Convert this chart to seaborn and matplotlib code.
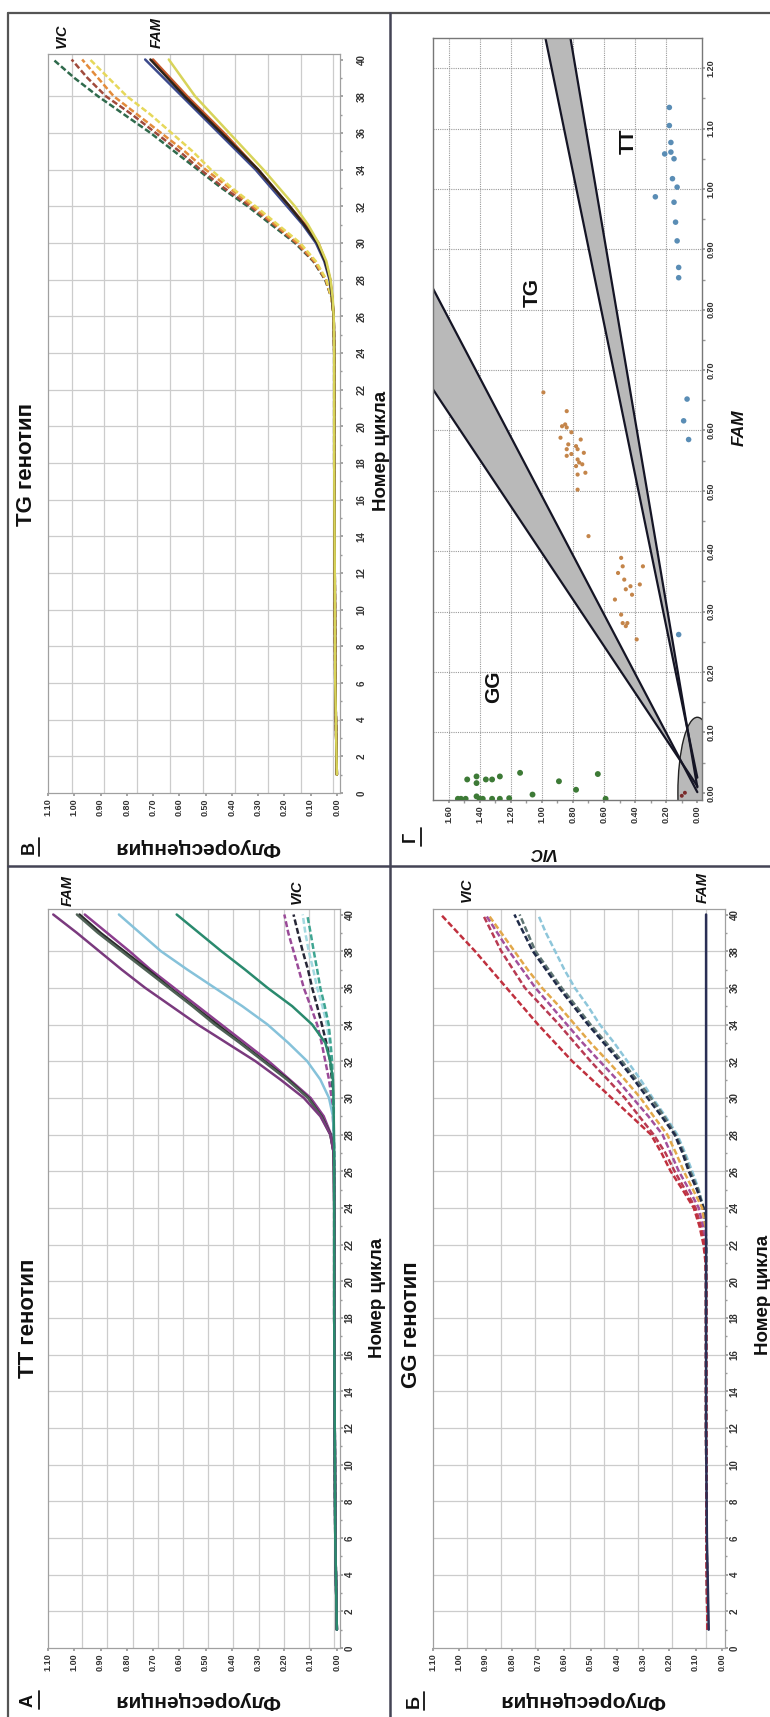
import numpy as np
import pandas as pd
import matplotlib
matplotlib.use("Agg")
import matplotlib.pyplot as plt
from matplotlib.colors import to_hex
from matplotlib.patches import Ellipse
from matplotlib.lines import Line2D
import seaborn as sns

# cycles at which the amplification curves were read
cyc_main = [1, 6, 12, 18, 24, 26, 27, 28, 29, 30, 31, 32, 33, 34, 35, 36, 37, 38, 39, 40]
cyc_gg = [1, 6, 12, 18, 20, 21, 22, 23, 24, 25, 26, 27, 28, 29, 30, 31, 32, 33, 34, 35, 36, 37, 38, 39, 40]

# panel В - TG genotype
tg_vic_green = [0.00, 0.006, 0.008, 0.010, 0.010, 0.012, 0.020, 0.045, 0.090, 0.160, 0.250, 0.340, 0.440, 0.530, 0.620, 0.710, 0.810, 0.910, 1.000, 1.080]
tg_vic_red = [0.00, 0.006, 0.008, 0.010, 0.010, 0.012, 0.020, 0.043, 0.088, 0.155, 0.240, 0.330, 0.430, 0.520, 0.600, 0.690, 0.780, 0.880, 0.950, 1.010]
tg_vic_orange = [0.00, 0.006, 0.008, 0.010, 0.010, 0.012, 0.020, 0.042, 0.085, 0.150, 0.235, 0.320, 0.410, 0.500, 0.580, 0.670, 0.760, 0.850, 0.910, 0.970]
tg_vic_yellow = [0.00, 0.006, 0.008, 0.010, 0.010, 0.012, 0.020, 0.040, 0.080, 0.140, 0.225, 0.310, 0.400, 0.480, 0.550, 0.630, 0.710, 0.800, 0.870, 0.940]
tg_fam_blue = [0.00, 0.006, 0.008, 0.010, 0.010, 0.012, 0.018, 0.028, 0.048, 0.080, 0.130, 0.190, 0.250, 0.310, 0.380, 0.450, 0.520, 0.590, 0.660, 0.730]
tg_fam_black = [0.00, 0.006, 0.008, 0.010, 0.010, 0.012, 0.018, 0.026, 0.045, 0.075, 0.125, 0.180, 0.240, 0.300, 0.370, 0.440, 0.510, 0.580, 0.645, 0.710]
tg_fam_red = [0.00, 0.006, 0.008, 0.010, 0.010, 0.012, 0.017, 0.025, 0.043, 0.070, 0.120, 0.180, 0.240, 0.300, 0.365, 0.430, 0.500, 0.570, 0.635, 0.700]
tg_fam_yellow = [0.00, 0.006, 0.008, 0.010, 0.010, 0.012, 0.016, 0.024, 0.040, 0.070, 0.110, 0.160, 0.220, 0.280, 0.345, 0.410, 0.475, 0.540, 0.590, 0.640]

# panel А - TT genotype
tt_fam_purple1 = [0.00, 0.006, 0.008, 0.010, 0.010, 0.011, 0.012, 0.025, 0.063, 0.126, 0.215, 0.310, 0.420, 0.530, 0.630, 0.730, 0.820, 0.905, 0.990, 1.080]
tt_fam_gray = [0.00, 0.006, 0.008, 0.010, 0.010, 0.011, 0.012, 0.025, 0.060, 0.110, 0.190, 0.280, 0.370, 0.465, 0.550, 0.640, 0.730, 0.820, 0.910, 0.990]
tt_fam_black = [0.00, 0.006, 0.008, 0.010, 0.010, 0.011, 0.012, 0.024, 0.058, 0.108, 0.185, 0.275, 0.365, 0.455, 0.545, 0.635, 0.720, 0.810, 0.900, 0.980]
tt_fam_purple2 = [0.00, 0.006, 0.008, 0.010, 0.010, 0.011, 0.012, 0.022, 0.050, 0.100, 0.180, 0.260, 0.350, 0.440, 0.530, 0.620, 0.710, 0.790, 0.875, 0.960]
tt_fam_lightblue = [0.00, 0.006, 0.008, 0.010, 0.010, 0.010, 0.011, 0.012, 0.015, 0.030, 0.063, 0.113, 0.185, 0.264, 0.360, 0.465, 0.570, 0.670, 0.750, 0.830]
tt_fam_teal = [0.00, 0.006, 0.008, 0.010, 0.010, 0.010, 0.010, 0.011, 0.012, 0.013, 0.015, 0.025, 0.044, 0.094, 0.170, 0.264, 0.350, 0.440, 0.525, 0.610]
tt_vic_purple = [0.00, 0.006, 0.008, 0.010, 0.010, 0.010, 0.011, 0.012, 0.015, 0.020, 0.030, 0.044, 0.058, 0.075, 0.100, 0.126, 0.145, 0.165, 0.185, 0.200]
tt_vic_black = [0.00, 0.006, 0.008, 0.010, 0.010, 0.010, 0.011, 0.012, 0.013, 0.015, 0.019, 0.025, 0.040, 0.057, 0.075, 0.094, 0.110, 0.130, 0.148, 0.165]
tt_vic_cyan = [0.00, 0.006, 0.008, 0.010, 0.010, 0.010, 0.011, 0.012, 0.013, 0.015, 0.017, 0.020, 0.028, 0.038, 0.055, 0.075, 0.090, 0.107, 0.120, 0.130]
tt_vic_teal = [0.00, 0.006, 0.008, 0.010, 0.010, 0.010, 0.011, 0.012, 0.013, 0.014, 0.016, 0.018, 0.024, 0.031, 0.046, 0.063, 0.075, 0.088, 0.100, 0.113]

# panel Б - GG genotype
gg_vic_red = [0.055, 0.058, 0.060, 0.060, 0.060, 0.062, 0.070, 0.085, 0.107, 0.150, 0.195, 0.230, 0.270, 0.345, 0.420, 0.495, 0.570, 0.635, 0.700, 0.760, 0.820, 0.880, 0.940, 1.005, 1.070]
gg_vic_crimson = [0.055, 0.058, 0.060, 0.060, 0.060, 0.061, 0.066, 0.080, 0.100, 0.140, 0.180, 0.215, 0.260, 0.315, 0.370, 0.435, 0.500, 0.560, 0.620, 0.685, 0.750, 0.795, 0.840, 0.875, 0.910]
gg_vic_magenta = [0.055, 0.058, 0.060, 0.060, 0.060, 0.060, 0.064, 0.072, 0.088, 0.125, 0.164, 0.195, 0.226, 0.280, 0.340, 0.400, 0.465, 0.530, 0.590, 0.650, 0.710, 0.760, 0.810, 0.855, 0.900]
gg_vic_orange = [0.055, 0.058, 0.060, 0.060, 0.060, 0.060, 0.062, 0.065, 0.075, 0.110, 0.145, 0.175, 0.208, 0.260, 0.310, 0.370, 0.434, 0.500, 0.560, 0.620, 0.685, 0.740, 0.790, 0.840, 0.890]
gg_vic_navy = [0.055, 0.058, 0.060, 0.060, 0.060, 0.060, 0.060, 0.062, 0.070, 0.095, 0.126, 0.150, 0.180, 0.230, 0.283, 0.335, 0.390, 0.450, 0.510, 0.565, 0.620, 0.670, 0.720, 0.755, 0.790]
gg_vic_gray = [0.055, 0.058, 0.060, 0.060, 0.060, 0.060, 0.060, 0.062, 0.070, 0.090, 0.120, 0.145, 0.176, 0.220, 0.270, 0.325, 0.380, 0.440, 0.500, 0.555, 0.610, 0.660, 0.710, 0.740, 0.770]
gg_vic_lightblue = [0.055, 0.058, 0.060, 0.060, 0.060, 0.060, 0.060, 0.062, 0.070, 0.088, 0.113, 0.140, 0.170, 0.215, 0.264, 0.310, 0.360, 0.410, 0.465, 0.510, 0.560, 0.600, 0.635, 0.670, 0.700]
gg_fam_navy = [0.050, 0.057, 0.060, 0.060, 0.060, 0.060, 0.060, 0.060, 0.060, 0.060, 0.060, 0.060, 0.060, 0.060, 0.060, 0.060, 0.060, 0.060, 0.060, 0.060, 0.060, 0.060, 0.060, 0.060, 0.060]

# panel Г - allelic discrimination (VIC, FAM)
tt_vic = [0.18, 0.18, 0.17, 0.21, 0.17, 0.15, 0.16, 0.13, 0.27, 0.15, 0.14, 0.13, 0.12, 0.12, 0.066, 0.088, 0.056, 0.12]
tt_fam = [1.135, 1.105, 1.077, 1.058, 1.061, 1.050, 1.017, 1.003, 0.987, 0.978, 0.945, 0.914, 0.870, 0.853, 0.652, 0.616, 0.585, 0.262]
tg_vic = [0.99, 0.84, 0.85, 0.87, 0.84, 0.81, 0.88, 0.75, 0.83, 0.78, 0.84, 0.77, 0.73, 0.81, 0.77, 0.84, 0.76, 0.74, 0.78,
          0.72, 0.77, 0.77, 0.70, 0.49, 0.48, 0.51, 0.35, 0.37, 0.47, 0.53, 0.49, 0.48, 0.45, 0.46, 0.39, 0.42, 0.43, 0.46]
tg_fam = [0.663, 0.632, 0.610, 0.607, 0.605, 0.597, 0.588, 0.585, 0.577, 0.574, 0.569, 0.569, 0.563, 0.561, 0.552, 0.558, 0.547, 0.544, 0.541,
          0.530, 0.527, 0.502, 0.425, 0.389, 0.375, 0.364, 0.375, 0.345, 0.353, 0.320, 0.295, 0.281, 0.281, 0.276, 0.254, 0.328, 0.342, 0.337]
gg_vic = [1.48, 1.42, 1.42, 1.36, 1.32, 1.27, 1.14, 0.89, 0.64, 0.78, 1.06, 1.21, 1.27, 1.32, 1.38, 1.42, 1.49, 1.52, 1.54, 0.59, 1.40]
gg_fam = [0.022, 0.027, 0.016, 0.022, 0.022, 0.027, 0.033, 0.019, 0.031, 0.005, -0.003, -0.009, -0.01, -0.01, -0.01, -0.006, -0.01, -0.01, -0.01, -0.01, -0.01]
ntc_vic = [0.10, 0.08]
ntc_fam = [-0.005, 0.0]

# cluster boundaries (VIC, FAM)
gg_tg_low_vic = [0.0, 1.70]
gg_tg_low_fam = [0.011, 0.668]
gg_tg_high_vic = [0.0, 1.70]
gg_tg_high_fam = [0.001, 0.835]
gg_tg_pivot = (0.10, 0.05)
tg_tt_left_vic = [0.0, 1.017]
tg_tt_left_fam = [0.025, 1.30]
tg_tt_right_vic = [0.0, 0.849]
tg_tt_right_fam = [0.009, 1.30]
tg_tt_pivot = (0.06, 0.10)
ntc_radius = 0.125

W, H = 770, 1717
sns.set_theme(style="white")
plt.rcParams["font.family"] = ["Liberation Sans", "DejaVu Sans"]

fig = plt.figure(figsize=(W / 100, H / 100), dpi=100)


def box(l, t, r, b):
    return [l / W, 1 - b / H, (r - l) / W, (b - t) / H]


def ftext(x, y, s, **kw):
    fig.text(x / W, 1 - y / H, s, ha="center", va="center", **kw)


def fline(xs, ys, **kw):
    fig.add_artist(Line2D([x / W for x in xs], [1 - y / H for y in ys],
                          transform=fig.transFigure, **kw))


def letter(x, y, s, ux):
    ftext(x, y, s, rotation=90, fontsize=13, fontweight="bold", color="#111111")
    fline([ux, ux], [y - 9, y + 9], color="#111111", lw=1.3)


def long_frame(cycles, series):
    rows = []
    for name, (dye, vals) in series.items():
        for c, v in zip(cycles, vals):
            rows.append((name, dye, c, v))
    return pd.DataFrame(rows, columns=["curve", "dye", "cycle", "fluor"])


def curve_panel(rect, cycles, series, colors, grid_x, ypad):
    ax = fig.add_axes(rect)
    for gx in grid_x:
        ax.axvline(gx, color="#cccccc", lw=0.9, zorder=0.5)
    for gy in range(2, 40, 2):
        ax.axhline(gy, color="#cccccc", lw=0.9, zorder=0.5)
    df = long_frame(cycles, series)
    sns.lineplot(data=df, x="fluor", y="cycle", hue="curve", style="dye",
                 palette=colors, dashes={"FAM": "", "VIC": (2.4, 1.1)},
                 estimator=None, sort=False, legend=False, linewidth=1.8, ax=ax)
    # solid FAM traces sit on top of the shared baseline
    fam_cols = {to_hex(colors[k]) for k, (d, _) in series.items() if d == "FAM"}
    for ln in ax.lines:
        if ln.get_zorder() >= 1 and to_hex(ln.get_color()) in fam_cols:
            ln.set_zorder(2.5)
    ax.set_xlim(1.10, -0.012)
    ax.set_ylim(0, 40.3)
    xt = np.round(np.arange(0, 1.101, 0.1), 2)
    ax.set_xticks(xt)
    ax.set_xticklabels([f"{v:.2f}" for v in xt], rotation=90, fontsize=6.5,
                       fontweight="bold", color="#333333")
    ax.yaxis.tick_right()
    ax.set_yticks(range(0, 41, 2))
    ax.set_yticklabels([str(v) for v in range(0, 41, 2)], rotation=90, fontsize=7,
                       fontweight="bold", color="#333333", va="center")
    ax.set_yticks(range(1, 40, 2), minor=True)
    ax.tick_params(axis="x", length=2, pad=2, color="#999999", bottom=True)
    ax.tick_params(axis="y", which="major", length=2, pad=ypad, color="#999999", right=True)
    ax.tick_params(axis="y", which="minor", length=1.5, color="#999999", right=True)
    for sp in ax.spines.values():
        sp.set_color("#a0a0a0")
        sp.set_linewidth(0.9)
    ax.set_xlabel("")
    ax.set_ylabel("")
    return ax


# panel В (TG); the last curve is drawn on top of the shared baseline
tg_series = {
    "v_green": ("VIC", tg_vic_green), "v_red": ("VIC", tg_vic_red),
    "v_orange": ("VIC", tg_vic_orange), "v_yellow": ("VIC", tg_vic_yellow),
    "f_blue": ("FAM", tg_fam_blue), "f_red": ("FAM", tg_fam_red),
    "f_black": ("FAM", tg_fam_black), "f_yellow": ("FAM", tg_fam_yellow),
}
tg_colors = {"v_green": "#2f6a4c", "v_red": "#a04a3c", "v_orange": "#e38b3a", "v_yellow": "#e6d85a",
             "f_yellow": "#d8d45a", "f_red": "#c2552a", "f_black": "#2d2218", "f_blue": "#3c4a8c"}
curve_panel(box(48, 54, 340, 793), cyc_main, tg_series, tg_colors, np.linspace(0.013, 1.01, 9), 10)

# panel А (TT)
tt_series = {
    "v_cyan": ("VIC", tt_vic_cyan), "v_black": ("VIC", tt_vic_black),
    "v_purple": ("VIC", tt_vic_purple), "v_teal": ("VIC", tt_vic_teal),
    "f_lightblue": ("FAM", tt_fam_lightblue),
    "f_purple2": ("FAM", tt_fam_purple2), "f_black": ("FAM", tt_fam_black),
    "f_gray": ("FAM", tt_fam_gray), "f_purple1": ("FAM", tt_fam_purple1),
    "f_teal": ("FAM", tt_fam_teal),
}
tt_colors = {"v_teal": "#3fa592", "v_cyan": "#a3d9e0", "v_black": "#262636", "v_purple": "#9a4a98",
             "f_teal": "#2a8a6e", "f_lightblue": "#86c2da", "f_purple2": "#8c3d8e", "f_black": "#2a2a2a",
             "f_gray": "#4f6256", "f_purple1": "#7a3a7e"}
curve_panel(box(48, 909, 340, 1648), cyc_main, tt_series, tt_colors, np.linspace(0.01, 0.97, 11), 1.5)

# panel Б (GG)
gg_series = {
    "v_lightblue": ("VIC", gg_vic_lightblue), "v_gray": ("VIC", gg_vic_gray),
    "v_navy": ("VIC", gg_vic_navy), "v_orange": ("VIC", gg_vic_orange),
    "v_magenta": ("VIC", gg_vic_magenta), "v_crimson": ("VIC", gg_vic_crimson),
    "v_red": ("VIC", gg_vic_red), "f_navy": ("FAM", gg_fam_navy),
}
gg_colors = {"v_lightblue": "#8ec6da", "v_gray": "#5e7472", "v_navy": "#1f2a48", "v_orange": "#e2a84a",
             "v_magenta": "#a2509c", "v_crimson": "#b83a52", "v_red": "#c0303e", "f_navy": "#2a2f55"}
curve_panel(box(433, 909, 725, 1648), cyc_gg, gg_series, gg_colors, np.linspace(0.06, 0.97, 8), 1.5)

# panel Г (scatter)
ax = fig.add_axes(box(433, 38, 702, 800))
for v in np.arange(0.2, 1.61, 0.2):
    ax.axvline(v, color="#9a9a9a", lw=0.8, ls=(0, (1, 1)), zorder=0.5)
for f in np.arange(0.1, 1.21, 0.1):
    ax.axhline(f, color="#9a9a9a", lw=0.8, ls=(0, (1, 1)), zorder=0.5)

ax.fill([gg_tg_pivot[0], gg_tg_low_vic[1], gg_tg_high_vic[1]],
        [gg_tg_pivot[1], gg_tg_low_fam[1], gg_tg_high_fam[1]], color="#b9b9b9", lw=0, zorder=1)
ax.fill([tg_tt_pivot[0], tg_tt_left_vic[1], tg_tt_right_vic[1]],
        [tg_tt_pivot[1], tg_tt_left_fam[1], tg_tt_right_fam[1]], color="#b9b9b9", lw=0, zorder=1)
ax.add_patch(Ellipse((0, 0), 2 * ntc_radius, 2 * ntc_radius, facecolor="#b9b9b9",
                     edgecolor="#222222", lw=1.0, zorder=1.2))
for xs, ys in [(gg_tg_low_vic, gg_tg_low_fam), (gg_tg_high_vic, gg_tg_high_fam),
               (tg_tt_left_vic, tg_tt_left_fam), (tg_tt_right_vic, tg_tt_right_fam)]:
    ax.plot(xs, ys, color="#151525", lw=1.6, zorder=1.5)

pts = pd.DataFrame({
    "VIC": tt_vic + tg_vic + gg_vic + ntc_vic,
    "FAM": tt_fam + tg_fam + gg_fam + ntc_fam,
    "genotype": ["TT"] * len(tt_vic) + ["TG"] * len(tg_vic) + ["GG"] * len(gg_vic) + ["NTC"] * len(ntc_vic),
})
sns.scatterplot(data=pts, x="VIC", y="FAM", hue="genotype", size="genotype",
                palette={"TT": "#5a8db5", "TG": "#c4854a", "GG": "#3d7a36", "NTC": "#7a2a2a"},
                sizes={"TT": 16, "TG": 9, "GG": 18, "NTC": 8},
                linewidth=0, legend=False, zorder=3, ax=ax)
ax.set_xlim(1.70, -0.03)
ax.set_ylim(-0.012, 1.25)
vt = np.round(np.arange(0, 1.61, 0.2), 2)
ax.set_xticks(vt)
ax.set_xticklabels([f"{v:.2f}" for v in vt], rotation=90, fontsize=6.5, fontweight="bold", color="#333333")
ax.set_xticks(np.arange(0.1, 1.7, 0.2), minor=True)
ft = np.round(np.arange(0, 1.21, 0.1), 2)
ax.yaxis.tick_right()
ax.set_yticks(ft)
ax.set_yticklabels([f"{v:.2f}" for v in ft], rotation=90, fontsize=6.5, fontweight="bold",
                   color="#333333", va="center")
ax.set_yticks(np.arange(0.05, 1.25, 0.1), minor=True)
ax.tick_params(axis="x", which="both", length=2, pad=2, color="#999999", bottom=True)
ax.tick_params(axis="y", which="both", length=2, pad=1, color="#999999", right=True)
for sp in ax.spines.values():
    sp.set_color("#777777")
    sp.set_linewidth(1.0)
ax.set_xlabel("")
ax.set_ylabel("")

# texts
bold = dict(fontweight="bold", color="#111111")
ftext(27, 464, "TG генотип", rotation=90, fontsize=16, **bold)
ftext(29, 1318, "TT генотип", rotation=90, fontsize=16, **bold)
ftext(412, 1325, "GG генотип", rotation=90, fontsize=16, **bold)
ftext(381, 451, "Номер цикла", rotation=90, fontsize=13.5, **bold)
ftext(377, 1298, "Номер цикла", rotation=90, fontsize=13.5, **bold)
ftext(764, 1295, "Номер цикла", rotation=90, fontsize=13.5, **bold)
ftext(197, 847, "Флуоресценция", rotation=180, fontsize=15, **bold)
ftext(197, 1700, "Флуоресценция", rotation=180, fontsize=15, **bold)
ftext(582, 1700, "Флуоресценция", rotation=180, fontsize=15, **bold)
dye = dict(rotation=90, fontsize=10.5, fontweight="bold", style="italic", color="#111111")
ftext(62, 36, "VIC", **dye)
ftext(157, 33, "FAM", **dye)
ftext(68, 891, "FAM", **dye)
ftext(297, 892, "VIC", **dye)
ftext(467, 890, "VIC", **dye)
ftext(703, 888, "FAM", **dye)
ftext(542, 852, "VIC", rotation=180, fontsize=12, fontweight="bold", style="italic", color="#111111")
ftext(739, 428, "FAM", rotation=90, fontsize=12.5, fontweight="bold", style="italic", color="#111111")
ftext(628, 141, "TT", rotation=90, fontsize=15, **bold)
ftext(532, 292, "TG", rotation=90, fontsize=15, **bold)
ftext(494, 687, "GG", rotation=90, fontsize=15, **bold)

letter(29, 847, "В", 39)
letter(28, 1700, "А", 39)
letter(414, 1701, "Б", 424)
letter(410, 837, "Г", 421)

# frame lines between the panels
fline([8, 770], [13, 13], color="#555555", lw=1.6)
fline([8, 8], [13, 1717], color="#555555", lw=1.6)
fline([390, 390], [13, 1717], color="#444455", lw=1.8)
fline([8, 770], [866, 866], color="#444455", lw=1.8)

fig.savefig("out.png", dpi=100)
